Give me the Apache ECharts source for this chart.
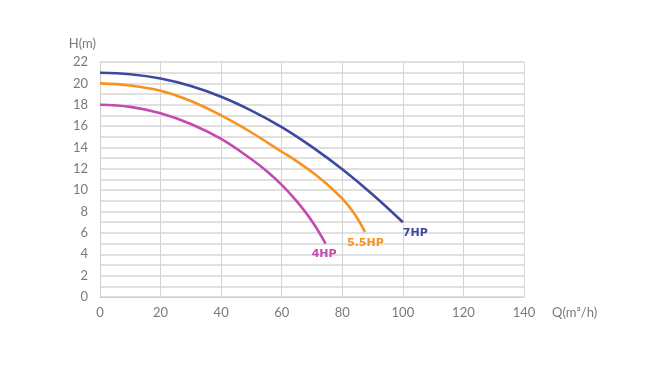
<!DOCTYPE html>
<html><head><meta charset="utf-8">
<script src="https://cdn.jsdelivr.net/npm/echarts@6/dist/echarts.min.js"></script>
<style>html,body{margin:0;padding:0;background:#fff}#c{width:651px;height:366px}</style>
</head><body><div id="c"></div>
<script>
const xTicks = [0, 20, 40, 60, 80, 100, 120, 140];
const yTicks = [0, 2, 4, 6, 8, 10, 12, 14, 16, 18, 20, 22];
const q7 = [0, 10, 20, 30, 40, 50, 60, 70, 80, 90, 100];
const h7 = [21, 20.85, 20.45, 19.75, 18.75, 17.45, 15.9, 14.05, 11.95, 9.6, 7];
const q55 = [0, 10, 20, 30, 40, 50, 60, 65, 70, 75, 80, 84, 87.5];
const h55 = [20, 19.8, 19.3, 18.35, 17.0, 15.4, 13.6, 12.7, 11.7, 10.55, 9.2, 7.8, 6.1];
const q4 = [0, 10, 20, 30, 40, 50, 55, 60, 65, 70, 74.5];
const h4 = [18, 17.8, 17.2, 16.2, 14.8, 12.9, 11.8, 10.5, 8.95, 7.1, 5];
const names = ['7HP', '5.5HP', '4HP'];
const colors = ['#3d4a9c', '#f7931e', '#c34bb0'];
const labelOffsets = [[-8, 11], [-26, 11], [-22, 11]];

function mk(qs, hs, i) {
  return { name: names[i], type: 'line', smooth: 0.4, showSymbol: false, symbol: 'none',
    data: qs.map((q, k) => [q, hs[k]]),
    lineStyle: { color: colors[i], width: 2.6 }, itemStyle: { color: colors[i] },
    endLabel: { show: true, formatter: names[i], offset: labelOffsets[i], color: colors[i],
      fontWeight: 'bold', fontSize: 11, fontFamily: 'DejaVu Sans' } };
}

const chart = echarts.init(document.getElementById('c'));
chart.setOption({
  animation: false,
  grid: { left: 100, right: 127, top: 62, bottom: 69 },
  xAxis: {
    type: 'value', min: xTicks[0], max: xTicks[xTicks.length - 1], interval: 20,
    name: 'Q(m³/h)', nameLocation: 'end', nameGap: 28,
    nameTextStyle: { color: '#7a7a7a', fontSize: 13, fontFamily: 'Lato', verticalAlign: 'top', padding: [9, 0, 0, 0] },
    axisLine: { show: true, lineStyle: { color: '#cfcfcf', width: 1 } },
    axisTick: { show: false },
    axisLabel: { color: '#7a7a7a', fontSize: 13, fontFamily: 'Lato', margin: 9 },
    splitLine: { show: true, lineStyle: { color: '#d6d6d6', width: 1 } }
  },
  yAxis: {
    type: 'value', min: yTicks[0], max: yTicks[yTicks.length - 1], interval: 2,
    name: 'H(m)', nameLocation: 'end', nameGap: 12,
    nameTextStyle: { color: '#7a7a7a', fontSize: 13, fontFamily: 'Lato', align: 'right', padding: [0, 4, 0, 0] },
    axisLine: { show: true, lineStyle: { color: '#cfcfcf', width: 1 } },
    axisTick: { show: false },
    axisLabel: { color: '#7a7a7a', fontSize: 13, fontFamily: 'Lato', margin: 12 },
    splitLine: { show: true, lineStyle: { color: '#d6d6d6', width: 1.5 } },
    minorTick: { show: false, splitNumber: 2 },
    minorSplitLine: { show: true, lineStyle: { color: '#d6d6d6', width: 1.5 } }
  },
  series: [mk(q7, h7, 0), mk(q55, h55, 1), mk(q4, h4, 2)]
});
</script></body></html>
